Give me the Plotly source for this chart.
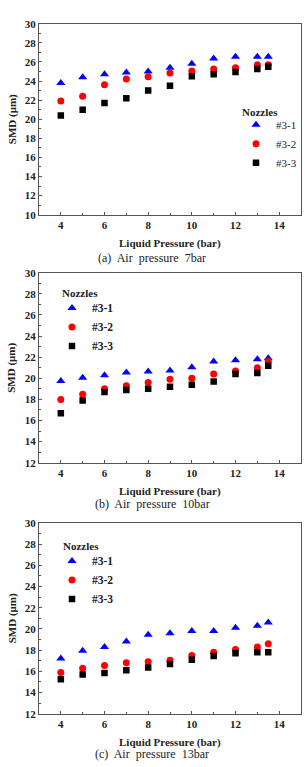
import plotly.graph_objects as go

pressure = [4, 5, 6, 7, 8, 9, 10, 11, 12, 13, 13.5]

n31_7 = [23.8, 24.4, 24.7, 24.9, 25.0, 25.4, 25.8, 26.35, 26.55, 26.55, 26.55]
n32_7 = [21.9, 22.4, 23.6, 24.2, 24.45, 24.85, 25.05, 25.25, 25.4, 25.7, 25.7]
n33_7 = [20.4, 21.0, 21.7, 22.2, 23.0, 23.5, 24.5, 24.7, 24.95, 25.25, 25.5]

n31_10 = [19.75, 20.05, 20.3, 20.55, 20.65, 20.75, 21.05, 21.6, 21.7, 21.8, 21.9]
n32_10 = [18.0, 18.5, 19.0, 19.3, 19.6, 19.9, 20.0, 20.4, 20.7, 21.0, 21.6]
n33_10 = [16.7, 17.9, 18.7, 18.9, 19.0, 19.2, 19.4, 19.7, 20.4, 20.5, 21.2]

n31_13 = [17.2, 17.95, 18.3, 18.8, 19.45, 19.6, 19.8, 19.8, 20.1, 20.3, 20.6]
n32_13 = [15.9, 16.3, 16.55, 16.8, 16.9, 17.05, 17.5, 17.8, 18.05, 18.3, 18.6]
n33_13 = [15.25, 15.7, 15.85, 16.1, 16.35, 16.7, 17.1, 17.45, 17.7, 17.8, 17.8]

series_names = ["#3-1", "#3-2", "#3-3"]
captions = ["(a)\u00a0 Air\u00a0 pressure\u00a0 7bar",
            "(b)\u00a0 Air\u00a0 pressure\u00a0 10bar",
            "(c)\u00a0 Air\u00a0 pressure\u00a0 13bar"]
y_ranges = [[10, 30], [12, 30], [12, 30]]

panels = [
    [n31_7, n32_7, n33_7],
    [n31_10, n32_10, n33_10],
    [n31_13, n32_13, n33_13],
]

W, H = 305, 767
SERIF = "Liberation Serif"

plot_px = [(18, 212), (271, 464), (525, 719)]
x_px = (39, 301)

def py(p):
    return 1 - p / H

styles = [
    dict(symbol="triangle-up", color="#0000ff", size=8),
    dict(symbol="circle", color="#ff0000", size=7),
    dict(symbol="square", color="#000000", size=6.5),
]

fig = go.Figure()
legend_names = ["legend", "legend2", "legend3"]
for i, data in enumerate(panels):
    xa = "x" if i == 0 else f"x{i+1}"
    ya = "y" if i == 0 else f"y{i+1}"
    for j, vals in enumerate(data):
        st = styles[j]
        fig.add_trace(go.Scatter(
            x=pressure, y=vals, mode="markers", name=series_names[j],
            xaxis=xa, yaxis=ya, legend=legend_names[i],
            marker=dict(symbol=st["symbol"], color=st["color"], size=st["size"],
                        line=dict(width=0)),
        ))

layout = dict(
    width=W, height=H, margin=dict(l=0, r=0, t=0, b=0),
    paper_bgcolor="white", plot_bgcolor="white",
    font=dict(family=SERIF, color="#222"),
    showlegend=True,
)

axis_common = dict(
    showgrid=False, zeroline=False, showline=True, linecolor="#555", linewidth=1,
    mirror=True, ticks="inside", ticklen=3, tickcolor="#555",
    tickfont=dict(family=SERIF, size=11, color="#222", weight="bold"),
)

annotations = []
for i in range(3):
    sfx = "" if i == 0 else str(i + 1)
    top, bot = plot_px[i]
    layout["xaxis" + sfx] = dict(
        axis_common, range=[3, 15], dtick=2, tick0=0,
        domain=[x_px[0] / W, x_px[1] / W], anchor="y" + sfx,
        minor=dict(ticks="inside", ticklen=2, dtick=1, tickcolor="#555"),
    )
    layout["yaxis" + sfx] = dict(
        axis_common, range=y_ranges[i], dtick=2, tick0=0,
        domain=[py(bot), py(top)], anchor="x" + sfx,
        minor=dict(ticks="inside", ticklen=2, dtick=1, tickcolor="#555"),
    )
    annotations.append(dict(
        text="SMD (\u03bcm)", textangle=-90, xref="paper", yref="paper",
        x=12 / W, y=py((top + bot) / 2), xanchor="center", yanchor="middle",
        showarrow=False,
        font=dict(family=SERIF, size=11, color="#222", weight="bold"),
    ))
    title_y = [241, 493, 748][i]
    annotations.append(dict(
        text="Liquid Pressure (bar)", xref="paper", yref="paper",
        x=170 / W, y=py(title_y), xanchor="center", yanchor="middle",
        showarrow=False,
        font=dict(family=SERIF, size=11, color="#222", weight="bold"),
    ))
    cap_y = [256, 506, 760][i]
    annotations.append(dict(
        text=captions[i], xref="paper", yref="paper",
        x=152 / W, y=py(cap_y), xanchor="center", yanchor="middle",
        showarrow=False,
        font=dict(family=SERIF, size=12, color="#222"),
    ))
    nz_x, nz_y = [(240, 108), (60, 292), (61, 549)][i]
    annotations.append(dict(
        text="Nozzles", xref="paper", yref="paper",
        x=nz_x / W, y=py(nz_y), xanchor="left", yanchor="middle",
        showarrow=False,
        font=dict(family=SERIF, size=11, color="#222", weight="bold"),
    ))

layout["annotations"] = annotations

leg_pos = [(236, 106, 11, "normal"), (52, 292, 11.5, "bold"), (52, 549, 11.5, "bold")]
for i, ln in enumerate(legend_names):
    lx, ly, fs, fw = leg_pos[i]
    layout[ln] = dict(
        x=lx / W, y=py(ly), xanchor="left", yanchor="top", xref="paper", yref="paper",
        bgcolor="rgba(0,0,0,0)", borderwidth=0,
        font=dict(family=SERIF, size=fs, color="#222", weight=fw),
        itemwidth=30, tracegroupgap=0,
    )

fig.update_layout(**layout)
fig.write_html("out.html")
